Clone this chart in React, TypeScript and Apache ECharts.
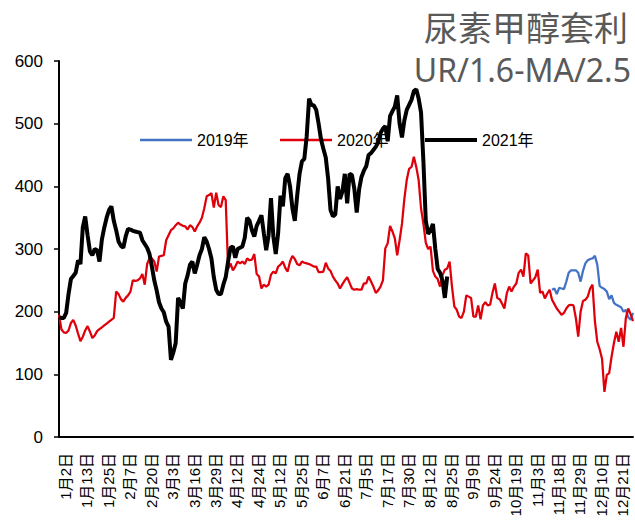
import React, { useEffect, useRef } from "react";
import * as echarts from "echarts";

const tickLabels = [
  "1月2日", "1月13日", "1月25日", "2月7日", "2月20日", "3月3日", "3月16日", "3月29日",
  "4月12日", "4月24日", "5月12日", "5月25日", "6月7日", "6月21日", "7月5日", "7月17日",
  "7月30日", "8月12日", "8月25日", "9月9日", "9月24日", "10月19日", "11月3日", "11月18日",
  "11月29日", "12月10日", "12月21日",
];
const dayCount = 242;
const labelStep = 9;
const yTicks = [0, 100, 200, 300, 400, 500, 600];

// [trading-day index, value]
const ur2019: [number, number][] = [
  [207, 235], [208, 237], [209, 228], [210, 238], [211, 237], [212, 236], [213, 248], [214, 262],
  [215, 266], [216, 266], [217, 266], [218, 262], [219, 248], [220, 265], [221, 277], [222, 282],
  [223, 284], [224, 285], [225, 289], [226, 275], [227, 241], [228, 238], [229, 236], [230, 232],
  [231, 220], [232, 226], [233, 214], [234, 211], [235, 209], [236, 207], [237, 200], [238, 203],
  [239, 191], [240, 187], [241, 198],
];

const ur2020: [number, number][] = [
  [0, 195], [1, 172], [2, 167], [3, 166], [4, 170], [5, 182], [6, 187], [7, 178], [8, 165], [9, 153],
  [10, 160], [11, 170], [12, 177], [13, 168], [14, 158], [15, 162], [16, 169], [17, 172], [18, 175],
  [19, 178], [20, 181], [21, 184], [22, 187], [23, 190], [24, 232], [25, 228], [26, 220], [27, 216],
  [28, 222], [29, 226], [30, 232], [31, 250], [32, 249], [33, 250], [34, 253], [35, 260], [36, 243],
  [37, 276], [38, 285], [39, 285], [40, 280], [41, 264], [42, 288], [43, 289], [44, 290], [45, 314],
  [46, 322], [47, 330], [48, 333], [49, 338], [50, 342], [51, 339], [52, 337], [53, 336], [54, 331],
  [55, 338], [56, 335], [57, 328], [58, 336], [59, 342], [60, 350], [61, 365], [62, 384], [63, 386],
  [64, 389], [65, 366], [66, 390], [67, 370], [68, 367], [69, 384], [70, 378], [71, 268], [72, 277],
  [73, 266], [74, 272], [75, 280], [76, 277], [77, 280], [78, 276], [79, 285], [80, 282], [81, 283],
  [82, 292], [83, 260], [84, 256], [85, 237], [86, 243], [87, 240], [88, 243], [89, 259], [90, 264],
  [91, 261], [92, 272], [93, 275], [94, 280], [95, 270], [96, 264], [97, 280], [98, 289], [99, 284],
  [100, 276], [101, 274], [102, 280], [103, 278], [104, 277], [105, 276], [106, 274], [107, 272],
  [108, 272], [109, 263], [110, 263], [111, 264], [112, 278], [113, 269], [114, 265], [115, 256],
  [116, 250], [117, 245], [118, 237], [119, 244], [120, 250], [121, 255], [122, 246], [123, 237],
  [124, 235], [125, 236], [126, 235], [127, 235], [128, 245], [129, 245], [130, 256], [131, 248],
  [132, 240], [133, 230], [134, 234], [135, 240], [136, 250], [137, 301], [138, 309], [139, 337],
  [140, 328], [141, 317], [142, 290], [143, 314], [144, 340], [145, 380], [146, 410], [147, 428],
  [148, 431], [149, 447], [150, 431], [151, 410], [152, 365], [153, 340], [154, 310], [155, 300],
  [156, 304], [157, 265], [158, 256], [159, 252], [160, 240], [161, 258], [162, 267], [163, 269],
  [164, 280], [165, 240], [166, 208], [167, 203], [168, 192], [169, 190], [170, 200], [171, 226],
  [172, 224], [173, 222], [174, 192], [175, 192], [176, 210], [177, 188], [178, 210], [179, 215],
  [180, 210], [181, 211], [182, 230], [183, 245], [184, 222], [185, 220], [186, 213], [187, 205],
  [188, 229], [189, 240], [190, 232], [191, 240], [192, 245], [193, 262], [194, 267], [195, 256],
  [196, 293], [197, 290], [198, 245], [199, 250], [200, 255], [201, 267], [202, 230], [203, 232],
  [204, 221], [205, 229], [206, 235], [207, 219], [208, 212], [209, 205], [210, 200], [211, 195],
  [212, 198], [213, 205], [214, 210], [215, 211], [216, 210], [217, 190], [218, 160], [219, 200],
  [220, 217], [221, 219], [222, 224], [223, 237], [224, 243], [225, 185], [226, 152], [227, 140],
  [228, 125], [229, 72], [230, 99], [231, 102], [232, 128], [233, 150], [234, 168], [235, 152],
  [236, 174], [237, 144], [238, 190], [239, 205], [240, 196], [241, 185],
];

const ur2021: [number, number][] = [
  [0, 191], [1, 190], [2, 190], [3, 198], [4, 228], [5, 252], [6, 257], [7, 262], [8, 282], [9, 276],
  [10, 335], [11, 352], [12, 322], [13, 296], [14, 290], [15, 300], [16, 298], [17, 280], [18, 315],
  [19, 334], [20, 350], [21, 362], [22, 368], [23, 345], [24, 330], [25, 312], [26, 305], [27, 302],
  [28, 320], [29, 332], [30, 331], [31, 329], [32, 328], [33, 327], [34, 326], [35, 314], [36, 308],
  [37, 302], [38, 292], [39, 272], [40, 250], [41, 234], [42, 215], [43, 205], [44, 199], [45, 184],
  [46, 176], [47, 123], [48, 135], [49, 150], [50, 222], [51, 215], [52, 205], [53, 245], [54, 258],
  [55, 275], [56, 280], [57, 261], [58, 275], [59, 290], [60, 300], [61, 319], [62, 312], [63, 300],
  [64, 285], [65, 255], [66, 235], [67, 228], [68, 228], [69, 243], [70, 255], [71, 280], [72, 302],
  [73, 304], [74, 286], [75, 300], [76, 302], [77, 304], [78, 318], [79, 350], [80, 345], [81, 330],
  [82, 320], [83, 337], [84, 345], [85, 354], [86, 325], [87, 298], [88, 322], [89, 381], [90, 320],
  [91, 292], [92, 325], [93, 385], [94, 368], [95, 413], [96, 420], [97, 400], [98, 365], [99, 345],
  [100, 385], [101, 420], [102, 440], [103, 444], [104, 480], [105, 540], [106, 530], [107, 529],
  [108, 522], [109, 500], [110, 475], [111, 460], [112, 446], [113, 412], [114, 362], [115, 352],
  [116, 355], [117, 400], [118, 380], [119, 392], [120, 420], [121, 373], [122, 420], [123, 418],
  [124, 396], [125, 358], [126, 395], [127, 415], [128, 425], [129, 432], [130, 450], [131, 453],
  [132, 458], [133, 463], [134, 470], [135, 485], [136, 492], [137, 496], [138, 472], [139, 512],
  [140, 520], [141, 527], [142, 545], [143, 500], [144, 478], [145, 505], [146, 522], [147, 530],
  [148, 538], [149, 552], [150, 555], [151, 540], [152, 518], [153, 440], [154, 345], [155, 324],
  [156, 330], [157, 340], [158, 300], [159, 268], [160, 262], [161, 250], [162, 222], [163, 256],
];

const FONT = "'Liberation Sans', 'Noto Sans CJK SC', sans-serif";

export default function App() {
  const ref = useRef<HTMLDivElement>(null);

  useEffect(() => {
    if (!ref.current) return;
    const chart = echarts.init(ref.current, undefined, { renderer: "svg" });
    const categories = Array.from({ length: dayCount }, (_, i) =>
      i % labelStep === 0 && i / labelStep < tickLabels.length ? tickLabels[i / labelStep] : `d${i}`
    );
    const legendBase = {
      itemWidth: 52,
      itemGap: 0,
      z: 1,
      icon: "rect",
      textStyle: { fontSize: 16, color: "#000", fontFamily: FONT },
    };
    chart.setOption({
      animation: false,
      backgroundColor: "#fff",
      textStyle: { fontFamily: FONT },
      grid: { left: 59, right: 2, top: 61, bottom: 89 },
      legend: [
        { ...legendBase, left: 135, top: 127, itemHeight: 2.5, data: ["2019年"] },
        { ...legendBase, left: 275, top: 127, itemHeight: 2.5, data: ["2020年"] },
        { ...legendBase, left: 420, top: 127, itemHeight: 4, data: ["2021年"] },
      ],
      graphic: [
        {
          type: "text",
          x: 628,
          y: 26,
          style: {
            text: "尿素甲醇套利",
            fontSize: 34,
            fill: "#595959",
            align: "right",
            verticalAlign: "middle",
            fontFamily: "'Noto Sans CJK SC', sans-serif",
          },
        },
        {
          type: "text",
          x: 631,
          y: 69,
          style: {
            text: "UR/1.6-MA/2.5",
            fontSize: 32,
            fill: "#595959",
            align: "right",
            verticalAlign: "middle",
            fontFamily: "'Noto Sans', sans-serif",
          },
        },
      ],
      xAxis: {
        type: "category",
        data: categories,
        boundaryGap: false,
        axisLine: { lineStyle: { color: "#000", width: 2 } },
        axisTick: { show: false },
        axisLabel: {
          interval: (i: number) => i % labelStep === 0 && i / labelStep < tickLabels.length,
          rotate: 90,
          margin: 16,
          fontSize: 15,
          color: "#000",
          fontFamily: FONT,
          verticalAlign: "top",
          lineHeight: 13,
        },
        splitLine: { show: false },
      },
      yAxis: {
        type: "value",
        min: yTicks[0],
        max: yTicks[yTicks.length - 1],
        interval: 100,
        axisLine: { show: true, lineStyle: { color: "#000", width: 2 } },
        axisTick: { show: true, length: 5, lineStyle: { color: "#000", width: 1.5 } },
        axisLabel: { fontSize: 17, color: "#000", margin: 16, fontFamily: FONT },
        splitLine: { show: false },
      },
      series: [
        {
          name: "2019年",
          type: "line",
          data: ur2019,
          symbol: "none",
          lineStyle: { color: "#4472C4", width: 2.25 },
          itemStyle: { color: "#4472C4" },
        },
        {
          name: "2020年",
          type: "line",
          data: ur2020,
          symbol: "none",
          lineStyle: { color: "#E0000B", width: 2.25 },
          itemStyle: { color: "#E0000B" },
        },
        {
          name: "2021年",
          type: "line",
          data: ur2021,
          symbol: "none",
          lineStyle: { color: "#000000", width: 4 },
          itemStyle: { color: "#000000" },
        },
      ],
    });
    return () => chart.dispose();
  }, []);

  return (
    <div
      ref={ref}
      style={{ position: "fixed", left: 0, top: 0, width: 635, height: 526, background: "#fff" }}
    />
  );
}
